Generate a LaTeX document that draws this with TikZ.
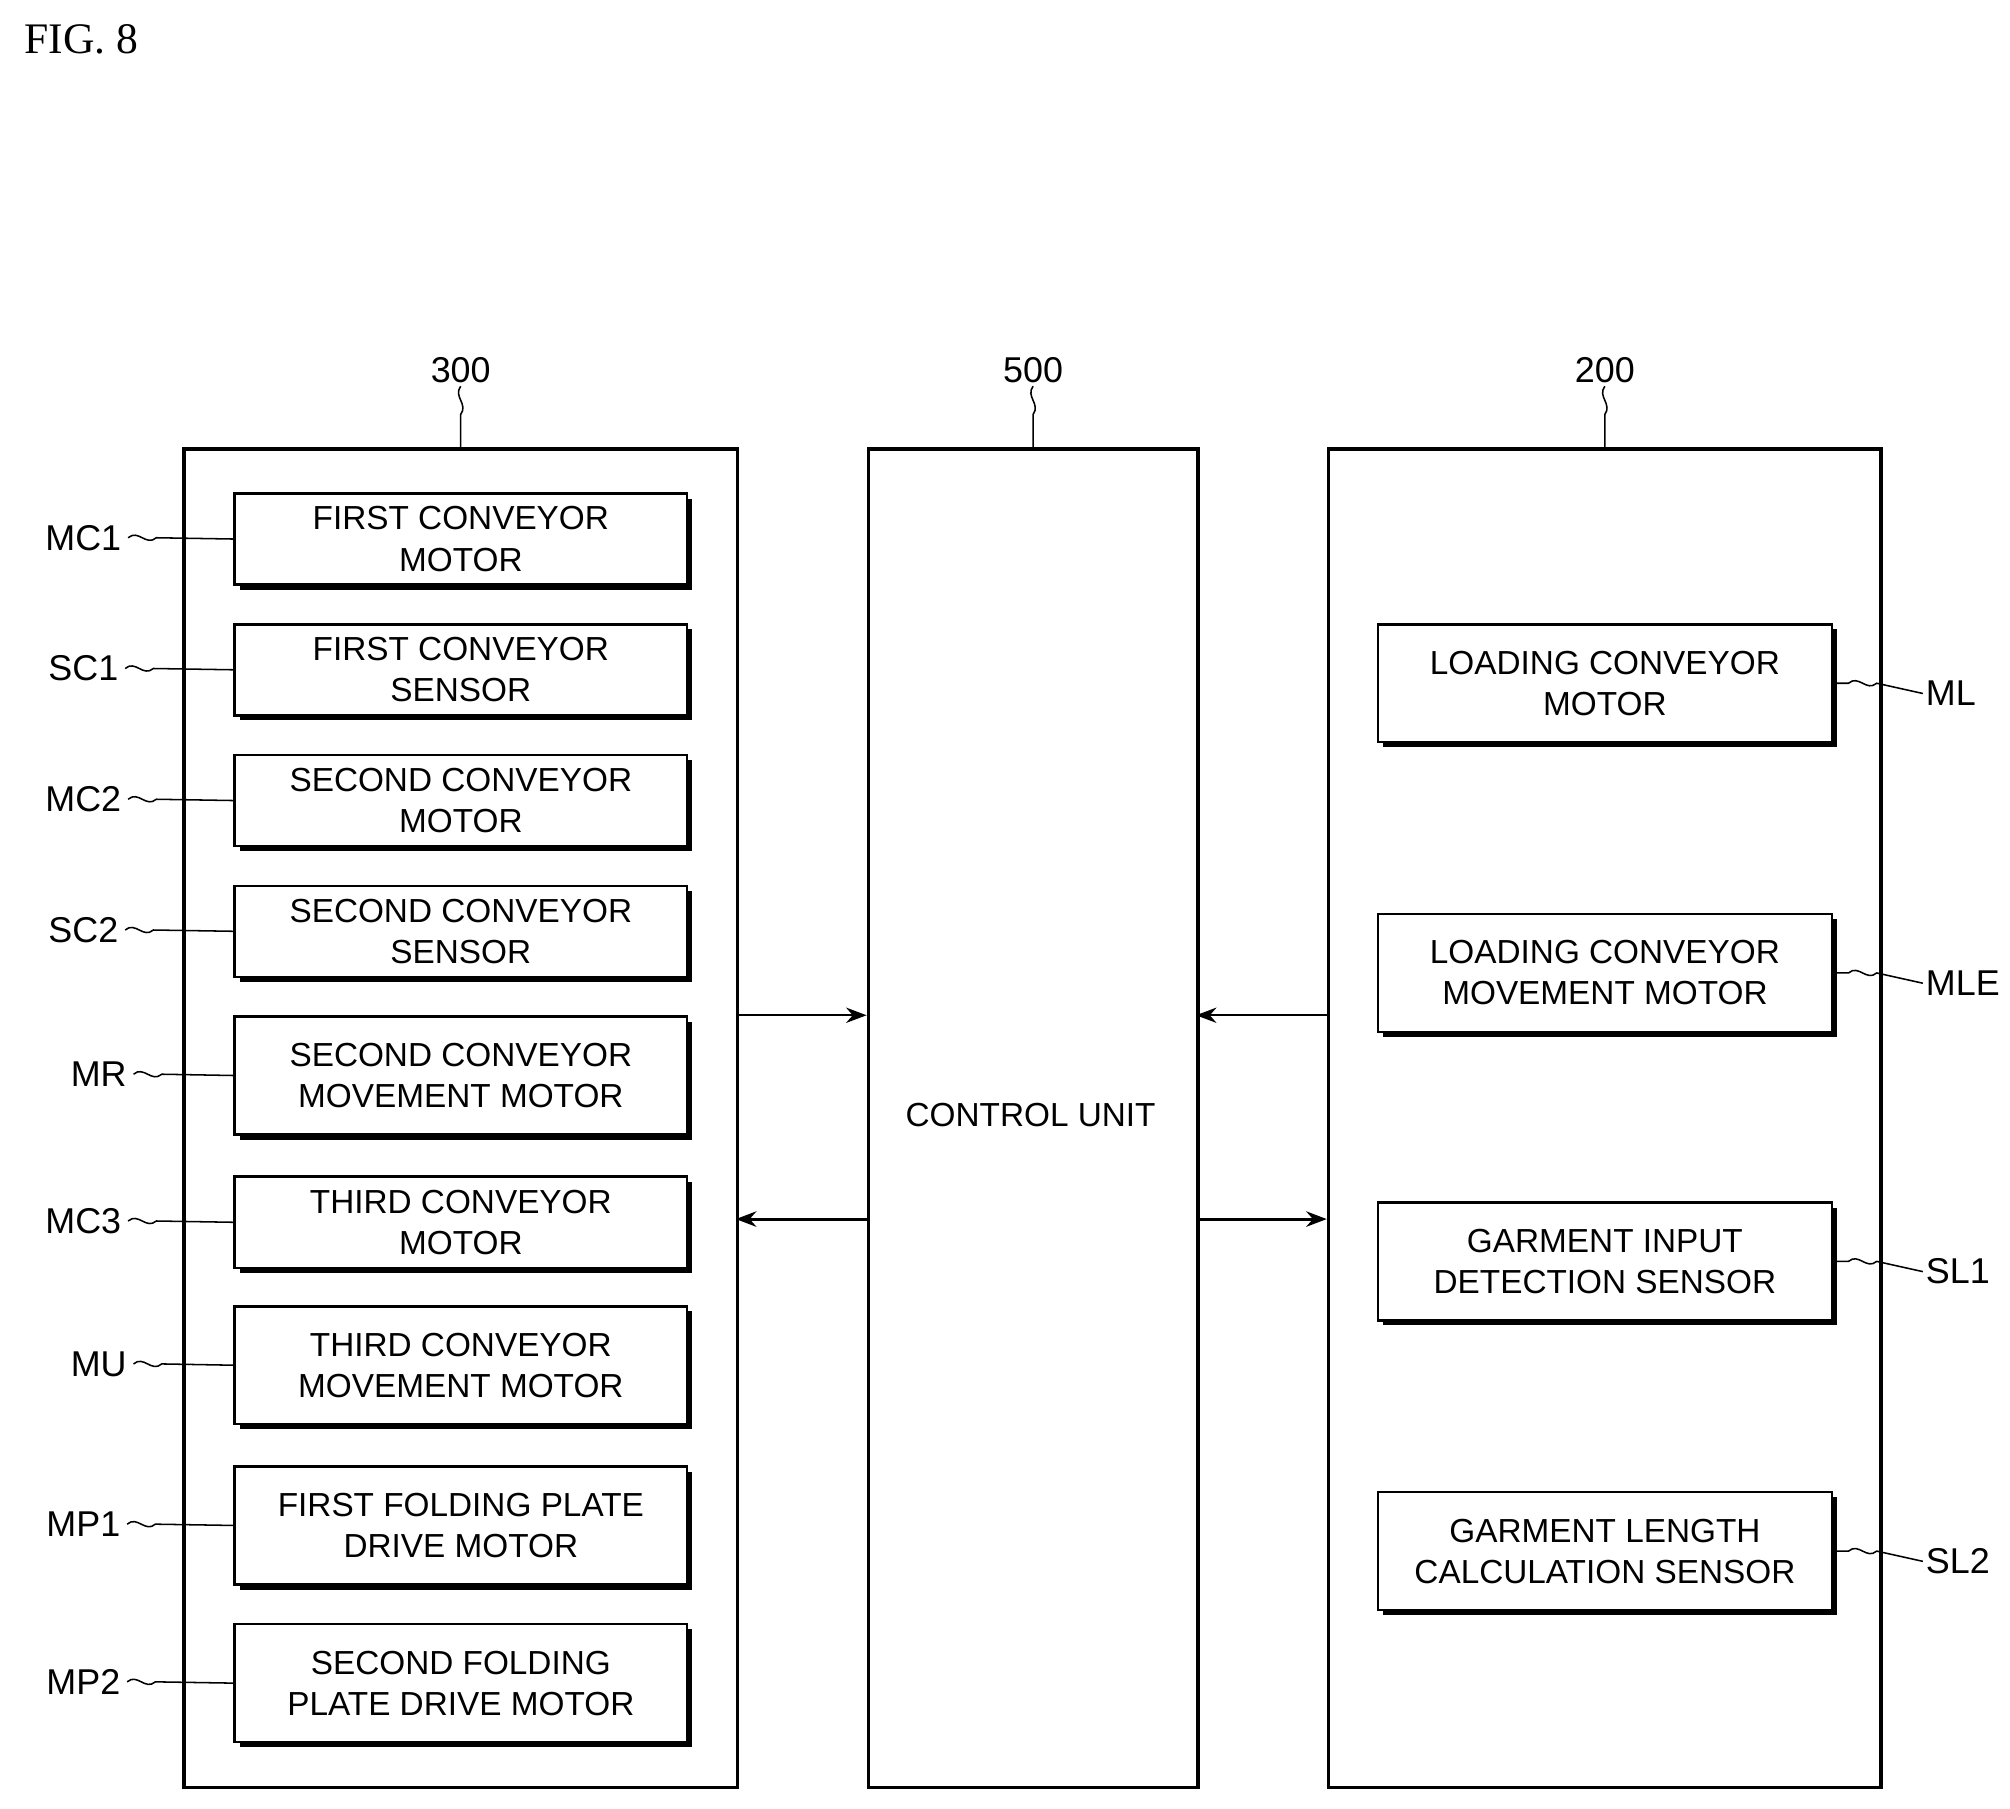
\documentclass[tikz,border=0pt]{standalone}
\usepackage{fontspec}
\setmainfont{Liberation Sans}
\newfontfamily\seriff{Liberation Serif}
\usetikzlibrary{arrows.meta,calc}
\begin{document}
\begin{tikzpicture}[x=0.5pt,y=-0.5pt,
  big/.style={draw,line width=1.4pt,minimum height=522pt,anchor=north west,inner sep=0},
  sub/.style={draw,line width=1pt,fill=white,anchor=north west,inner sep=0,align=center,
    font=\fontsize{13}{16}\selectfont},
  lbl/.style={font=\fontsize{14}{16}\selectfont,inner sep=1pt},
  sq/.style={line width=0.6pt},
  arr/.style={line width=0.6pt,-{Stealth[length=8pt,width=6pt]}}]
\useasboundingbox (0,0) rectangle (1568,1411);
\node[anchor=north west,font=\seriff\fontsize{17}{20}\selectfont] (fig) at (12,12) {FIG. 8};
\node[big,minimum width=216pt] (b300) at (142,349) {};
\node[big,minimum width=128.5pt] (b500) at (676,349) {};
\node[big,minimum width=215.5pt] (b200) at (1035,349) {};
\node[font=\fontsize{13}{16}\selectfont] (cu) at (804,870) {CONTROL UNIT};
\foreach \n/\b in {300/b300,500/b500,200/b200}{
  \node[lbl] (t\n) at ($(\b.north)+(0,-60)$) {\n};
}
% left boxes
\foreach \nm/\y/\h/\txt/\lx in {
 MC1/384/71/{FIRST CONVEYOR\\MOTOR}/65,
 SC1/486/71/{FIRST CONVEYOR\\SENSOR}/65,
 MC2/588/71/{SECOND CONVEYOR\\MOTOR}/65,
 SC2/690/71/{SECOND CONVEYOR\\SENSOR}/65,
 MR/792/92/{SECOND CONVEYOR\\MOVEMENT MOTOR}/77,
 MC3/917/71/{THIRD CONVEYOR\\MOTOR}/65,
 MU/1018/92/{THIRD CONVEYOR\\MOVEMENT MOTOR}/77,
 MP1/1143/92/{FIRST FOLDING PLATE\\DRIVE MOTOR}/65,
 MP2/1266/92/{SECOND FOLDING\\PLATE DRIVE MOTOR}/65}{
  \fill (187,\y+5) rectangle ++(353,\h);
  \node[sub,minimum width=176.5pt,minimum height=\h*0.5pt] (\nm) at (182,\y) {\txt};
  \node[lbl] (l\nm) at (\lx,\y+\h/2) {\nm};
  \draw[sq] (l\nm.east)++(3,0) .. controls +(8,-7) and +(-8,7) .. ++(22,0) -- (\nm.west);
}
\foreach \nm/\y/\txt in {
 ML/486/{LOADING CONVEYOR\\MOTOR},
 MLE/712/{LOADING CONVEYOR\\MOVEMENT MOTOR},
 SL1/937/{GARMENT INPUT\\DETECTION SENSOR},
 SL2/1163/{GARMENT LENGTH\\CALCULATION SENSOR}}{
  \fill (1079,\y+5) rectangle ++(354,92);
  \node[sub,minimum width=177pt,minimum height=46pt] (\nm) at (1074,\y) {\txt};
  \node[lbl,anchor=west] (l\nm) at (1500,\y+55) {\nm};
  \draw[sq] (\nm.east) -- ++(12,0) .. controls +(8,-7) and +(-8,7) .. ++(22,0) -- (l\nm.west);
}
\foreach \n in {300,500,200}{
  \draw[sq] (t\n.south) .. controls +(-6,8) and +(6,-8) .. ++(0,22) -- (t\n.south|-b300.north);
}
\coordinate (a1) at (574,792); \coordinate (a2) at (676,792);
\coordinate (a3) at (676,951); \coordinate (a4) at (574,951);
\coordinate (a5) at (1035,792); \coordinate (a6) at (933,792);
\coordinate (a7) at (933,951); \coordinate (a8) at (1035,951);
\draw[arr] (a1) -- (a2);
\draw[arr,line width=1.2pt] (a3) -- (a4);
\draw[arr] (a5) -- (a6);
\draw[arr,line width=1.2pt] (a7) -- (a8);
\end{tikzpicture}
\end{document}
